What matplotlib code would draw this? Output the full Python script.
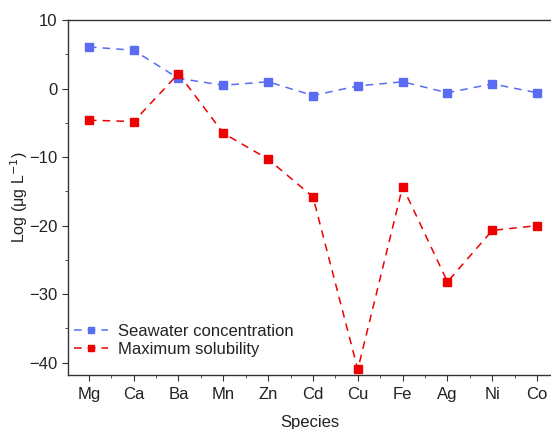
import matplotlib
matplotlib.use("Agg")
import matplotlib.pyplot as plt
from matplotlib.ticker import MultipleLocator

plt.rcParams['font.family'] = ['Liberation Sans', 'DejaVu Sans']

species = ["Mg", "Ca", "Ba", "Mn", "Zn", "Cd", "Cu", "Fe", "Ag", "Ni", "Co"]
seawater = [6.1, 5.6, 1.5, 0.5, 1.0, -1.0, 0.4, 1.0, -0.6, 0.7, -0.6]
max_solubility = [-4.6, -4.8, 2.2, -6.5, -10.3, -15.8, -41.0, -14.3, -28.2, -20.7, -20.0]

blue = "#5a6cf2"
red = "#ee0000"
text_c = "#222222"

fig = plt.figure(figsize=(5.51, 4.29), dpi=100)
ax = fig.add_axes([0.123, 0.126, 0.877, 0.827])

x = list(range(len(species)))
ax.plot(x, seawater, linestyle=(0, (5, 4)), color=blue, lw=1.1,
        marker="s", markersize=6, markerfacecolor=blue, markeredgecolor=blue,
        label="Seawater concentration")
ax.plot(x, max_solubility, linestyle=(0, (5, 4)), color=red, lw=1.1,
        marker="s", markersize=6, markerfacecolor=red, markeredgecolor=red,
        label="Maximum solubility")

ax.set_xticks(x)
ax.set_xticklabels(species)
ax.set_xlim(-0.47, 10.31)
ax.set_ylim(-41.8, 10)
ax.yaxis.set_major_locator(MultipleLocator(10))
ax.yaxis.set_minor_locator(MultipleLocator(5))
ax.xaxis.set_minor_locator(MultipleLocator(0.5))

ax.spines['right'].set_visible(False)
for s in ['left', 'bottom', 'top']:
    ax.spines[s].set_linewidth(1.0)
    ax.spines[s].set_color("#333333")

ax.tick_params(axis='both', which='major', labelsize=12, length=4, direction='out',
               color="#333333", labelcolor=text_c)
ax.tick_params(axis='both', which='minor', length=2.5, direction='out', color="#333333")
ax.tick_params(axis='x', pad=5)

ax.set_xlabel("Species", fontsize=12, labelpad=9, color=text_c)
ax.set_ylabel("Log (μg L$^{-1}$)", fontsize=11.5, labelpad=-1, color=text_c)

leg = ax.legend(loc='lower left', frameon=False, fontsize=12, handlelength=2.0,
                borderaxespad=0.0, bbox_to_anchor=(0.0, 0.033), handletextpad=0.6,
                labelspacing=0.15, markerscale=0.75)
for t in leg.get_texts():
    t.set_color(text_c)

fig.savefig("out.png", dpi=100)
